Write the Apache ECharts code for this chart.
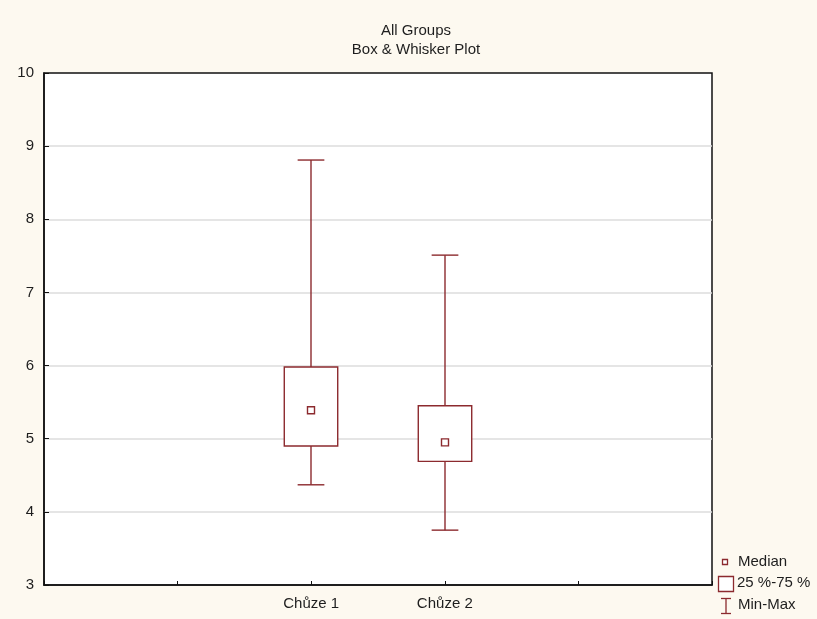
<!DOCTYPE html>
<html>
<head>
<meta charset="utf-8">
<title>All Groups – Box & Whisker Plot</title>
<script src="https://cdn.jsdelivr.net/npm/echarts@6/dist/echarts.min.js"></script>
<style>
  html, body { margin: 0; padding: 0; background: #fdf9f0; }
  #chart { width: 817px; height: 619px; }
</style>
</head>
<body>
<div id="chart"></div>
<script>
// Category slots along the x axis (two empty slots on each side of the groups)
const categories = ['', '', 'Chůze 1', 'Chůze 2', '', ''];
// Group positions on the category axis
const groupIndex = [2, 3];
// Per-group statistics
const minValues    = [4.37, 3.75];
const q1Values     = [4.90, 4.69];
const medianValues = [5.39, 4.95];
const q3Values     = [5.98, 5.45];
const maxValues    = [8.81, 7.51];
// Y axis range and step
const yMin = 3, yMax = 10, yStep = 1;

const boxColor = '#8c2a2e';
const textColor = '#1e1e1e';
const font = '"Liberation Sans", Arial, sans-serif';

const seriesData = groupIndex.map((g, i) => [g, minValues[i], q1Values[i], medianValues[i], q3Values[i], maxValues[i]]);

function renderBox(params, api) {
  const x = api.value(0);
  const pMin = api.coord([x, api.value(1)]);
  const pQ1 = api.coord([x, api.value(2)]);
  const pMed = api.coord([x, api.value(3)]);
  const pQ3 = api.coord([x, api.value(4)]);
  const pMax = api.coord([x, api.value(5)]);
  const band = api.size([1, 0])[0];
  const boxW = band * 0.4;
  const capW = boxW / 2;
  const cx = Math.round(pQ1[0]);
  const lineStyle = { stroke: boxColor, lineWidth: 1.4, fill: null };
  const med = 7;
  return {
    type: 'group',
    children: [
      { type: 'line', shape: { x1: cx, y1: pQ3[1], x2: cx, y2: pMax[1] }, style: lineStyle },
      { type: 'line', shape: { x1: cx, y1: pQ1[1], x2: cx, y2: pMin[1] }, style: lineStyle },
      { type: 'line', shape: { x1: cx - capW / 2, y1: pMax[1], x2: cx + capW / 2, y2: pMax[1] }, style: lineStyle },
      { type: 'line', shape: { x1: cx - capW / 2, y1: pMin[1], x2: cx + capW / 2, y2: pMin[1] }, style: lineStyle },
      { type: 'rect', shape: { x: cx - boxW / 2, y: pQ3[1], width: boxW, height: pQ1[1] - pQ3[1] }, style: { stroke: boxColor, lineWidth: 1.4, fill: '#fff' } },
      { type: 'rect', shape: { x: cx - med / 2, y: pMed[1] - med / 2, width: med, height: med }, style: { stroke: boxColor, lineWidth: 1.4, fill: '#fff' } }
    ]
  };
}

const chart = echarts.init(document.getElementById('chart'), null, { renderer: 'canvas' });

// Legend icons and labels in the bottom-right corner
const legendText = { fill: textColor, fontSize: 15, fontFamily: font, verticalAlign: 'middle' };
const legendGraphics = [
  { type: 'rect', shape: { x: 722.5, y: 559.5, width: 5, height: 5 }, style: { stroke: boxColor, fill: '#fff', lineWidth: 1.3 } },
  { type: 'text', x: 738, y: 562, style: Object.assign({ text: 'Median' }, legendText) },
  { type: 'rect', shape: { x: 718.5, y: 576.5, width: 15, height: 15 }, style: { stroke: boxColor, fill: '#fff', lineWidth: 1.3 } },
  { type: 'text', x: 737, y: 583, style: Object.assign({ text: '25 %-75 %' }, legendText) },
  { type: 'line', shape: { x1: 726, y1: 598, x2: 726, y2: 614 }, style: { stroke: boxColor, lineWidth: 1.3 } },
  { type: 'line', shape: { x1: 721, y1: 598.5, x2: 731, y2: 598.5 }, style: { stroke: boxColor, lineWidth: 1.3 } },
  { type: 'line', shape: { x1: 721, y1: 613.5, x2: 731, y2: 613.5 }, style: { stroke: boxColor, lineWidth: 1.3 } },
  { type: 'text', x: 738, y: 605, style: Object.assign({ text: 'Min-Max' }, legendText) }
];

chart.setOption({
  backgroundColor: '#fdf9f0',
  animation: false,
  graphic: [
    { type: 'text', x: 416, y: 31, style: { text: 'All Groups', fill: textColor, fontSize: 15, fontFamily: font, align: 'center', verticalAlign: 'middle' } },
    { type: 'text', x: 416, y: 50, style: { text: 'Box & Whisker Plot', fill: textColor, fontSize: 15, fontFamily: font, align: 'center', verticalAlign: 'middle' } }
  ].concat(legendGraphics),
  grid: {
    left: 44, right: 105, top: 73, bottom: 34,
    show: true, backgroundColor: '#ffffff', borderColor: '#111', borderWidth: 1.5,
    containLabel: false
  },
  xAxis: {
    type: 'category',
    data: categories,
    boundaryGap: false,
    axisLine: { show: true, lineStyle: { color: '#111', width: 1.5 } },
    axisTick: { show: true, inside: true, length: 4, interval: 0, lineStyle: { color: '#111' } },
    axisLabel: { interval: 0, color: textColor, fontSize: 15, fontFamily: font, margin: 11 },
    splitLine: { show: false }
  },
  yAxis: {
    type: 'value',
    min: yMin, max: yMax, interval: yStep,
    axisLine: { show: true, lineStyle: { color: '#111', width: 1.5 } },
    axisTick: { show: true, inside: true, length: 5, lineStyle: { color: '#111' } },
    axisLabel: { color: textColor, fontSize: 15, fontFamily: font, margin: 10 },
    splitLine: { show: true, showMinLine: false, showMaxLine: false, lineStyle: { color: '#dcdcdc', width: 1.5 } }
  },
  series: [{
    type: 'custom',
    renderItem: renderBox,
    encode: { x: 0, y: [1, 2, 3, 4, 5] },
    data: seriesData,
    z: 5
  }]
});
</script>
</body>
</html>
